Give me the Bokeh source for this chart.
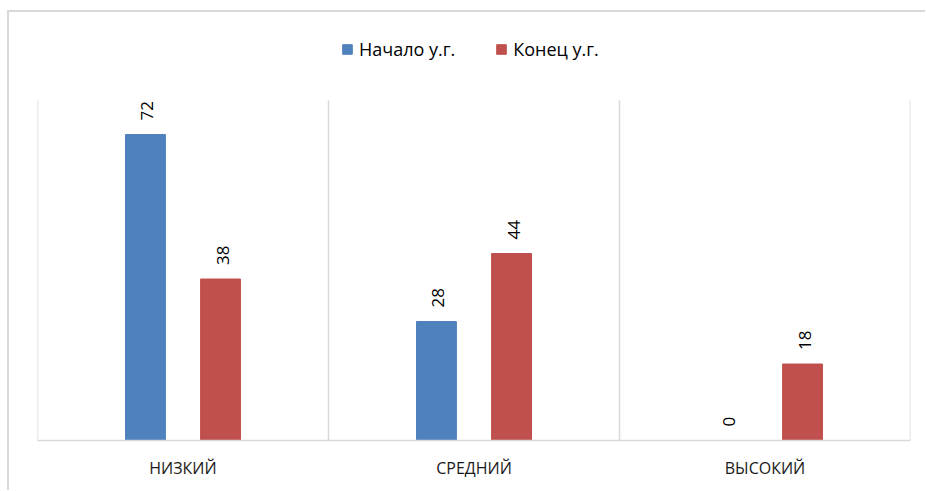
from math import pi
from bokeh.plotting import figure
from bokeh.models import (ColumnDataSource, FactorRange, Range1d, Legend,
                          LegendItem)
from bokeh.transform import dodge
from bokeh.core.properties import value
from bokeh.embed import file_html
from bokeh.resources import INLINE

categories = ["НИЗКИЙ", "СРЕДНИЙ", "ВЫСОКИЙ"]
series_names = ["Начало у.г.", "Конец у.г."]
start_values = [72, 28, 0]
end_values = [38, 44, 18]
value_max = 80

BLUE = "#4f81bd"
RED = "#c0504d"
GRID = "#d9d9d9"
FONT = "Open Sans"

src = ColumnDataSource(dict(
    cat=categories,
    start=start_values,
    end=end_values,
    start_lbl=[str(v) for v in start_values],
    end_lbl=[str(v) for v in end_values],
))

# frame extends above the value area so the legend can sit inside it
FRAME_TOP = 20
PLOT_TOP = 100
BASE = 440
y_end = value_max * (BASE - FRAME_TOP) / (BASE - PLOT_TOP)

p = figure(x_range=FactorRange(*categories), y_range=Range1d(0, y_end),
           width=925, height=490, output_backend="svg", toolbar_location=None,
           min_border_left=37, min_border_right=15, min_border_top=FRAME_TOP,
           min_border_bottom=50)

p.outline_line_color = None
p.background_fill_color = None
p.border_fill_color = None
p.styles = {
    "background": ("linear-gradient(#d9d9d9,#d9d9d9) 7px 10px / 2px 100% no-repeat, "
                   "linear-gradient(#d9d9d9,#d9d9d9) 7px 10px / 100% 2px no-repeat, "
                   "white"),
}
p.yaxis.visible = False
p.ygrid.grid_line_color = None
p.xgrid.grid_line_color = None

ax = p.xaxis[0]
ax.axis_line_color = GRID
ax.axis_line_width = 1.5
ax.major_tick_line_color = None
ax.minor_tick_line_color = None
ax.major_label_standoff = 10
ax.major_label_text_font = FONT
ax.major_label_text_font_size = "16px"
ax.major_label_text_color = "#1a1a1a"

bounds = list(range(len(categories) + 1))
p.segment(x0=bounds, y0=[0] * len(bounds), x1=bounds,
          y1=[value_max] * len(bounds), line_color=GRID, line_width=1.5)

off = 0.129
bw = 0.137
r1 = p.vbar(x=dodge("cat", -off, range=p.x_range), top="start", width=bw,
            source=src, fill_color=BLUE, line_color=BLUE)
r2 = p.vbar(x=dodge("cat", off, range=p.x_range), top="end", width=bw,
            source=src, fill_color=RED, line_color=RED)

for xo, col in ((-off, "start"), (off, "end")):
    p.text(x=dodge("cat", xo, range=p.x_range), y=col, text=col + "_lbl",
           source=src, angle=pi / 2, text_align="left",
           text_baseline="middle", x_offset=2, y_offset=-14,
           text_font=value(FONT), text_font_size="17px", text_color="#000000")

legend = Legend(items=[LegendItem(label=series_names[0], renderers=[r1]),
                       LegendItem(label=series_names[1], renderers=[r2])],
                orientation="horizontal", location=(304, 379),
                padding=0, margin=0, spacing=40, label_standoff=6,
                glyph_width=12, glyph_height=12, border_line_color=None,
                background_fill_alpha=0, label_text_font=FONT,
                label_text_font_size="18px", label_text_color="#000000")
p.add_layout(legend, "center")

open("out.html", "w").write(file_html(p, INLINE))
